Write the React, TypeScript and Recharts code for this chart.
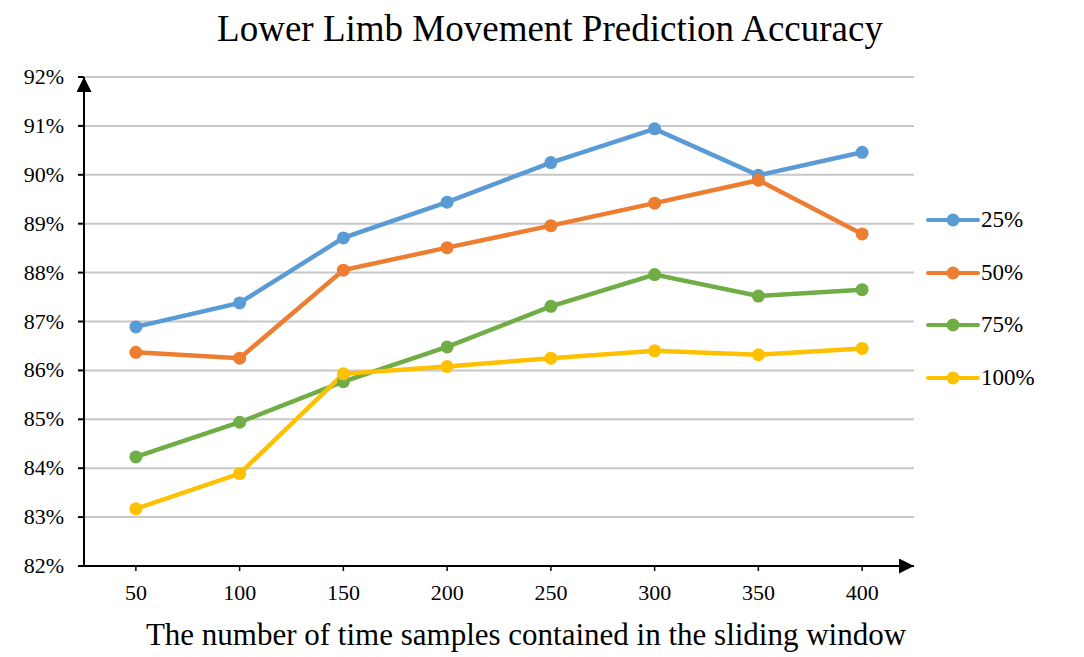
import React from "react";
import { LineChart, Line, XAxis, YAxis, CartesianGrid } from "recharts";

const windowSizes = ["50", "100", "150", "200", "250", "300", "350", "400"];
const acc25 = [86.89, 87.38, 88.71, 89.44, 90.25, 90.94, 89.99, 90.46];
const acc50 = [86.37, 86.25, 88.05, 88.51, 88.96, 89.42, 89.89, 88.79];
const acc75 = [84.23, 84.94, 85.77, 86.48, 87.31, 87.96, 87.52, 87.65];
const acc100 = [83.17, 83.89, 85.93, 86.08, 86.25, 86.4, 86.32, 86.45];
const yTicks = [82, 83, 84, 85, 86, 87, 88, 89, 90, 91, 92];

const seriesNames = ["25%", "50%", "75%", "100%"];
const seriesColors = ["#5B9BD5", "#ED7D31", "#70AD47", "#FFC000"];
const seriesValues = [acc25, acc50, acc75, acc100];

const data = windowSizes.map((w, i) => {
  const row: Record<string, string | number> = { window: w };
  seriesNames.forEach((name, s) => {
    row[name] = seriesValues[s][i];
  });
  return row;
});

const FONT = '"Liberation Serif", "Times New Roman", serif';

function XTick({ x, y, payload }: any) {
  return (
    <text x={x} y={y + 27} textAnchor="middle" fill="#000" fontSize={22} fontFamily={FONT}>
      {payload.value}
    </text>
  );
}

function YTick({ x, y, payload }: any) {
  return (
    <text x={x - 12} y={y + 7} textAnchor="end" fill="#000" fontSize={22} fontFamily={FONT}>
      {`${payload.value}%`}
    </text>
  );
}

function LegendBox() {
  return (
    <div
      style={{
        position: "absolute",
        left: 926,
        top: 194,
        fontFamily: FONT,
        fontSize: 23,
        color: "#000",
      }}
    >
      {seriesNames.map((name, s) => (
        <div key={name} style={{ display: "flex", alignItems: "center", height: 52.5 }}>
          <svg width={54} height={20} style={{ marginRight: 1 }}>
            <line x1={2} y1={10} x2={52} y2={10} stroke={seriesColors[s]} strokeWidth={4} strokeLinecap="round" />
            <circle cx={27} cy={10} r={6.5} fill={seriesColors[s]} />
          </svg>
          <span>{name}</span>
        </div>
      ))}
    </div>
  );
}

export default function App() {
  return (
    <div
      style={{
        position: "absolute",
        left: 0,
        top: 0,
        width: 1084,
        height: 657,
        background: "#fff",
        fontFamily: FONT,
      }}
    >
      <div
        style={{
          position: "absolute",
          left: 0,
          width: 1100,
          top: 7,
          textAlign: "center",
          fontSize: 37,
          lineHeight: "44px",
          color: "#000",
        }}
      >
        Lower Limb Movement Prediction Accuracy
      </div>
      <div
        style={{
          position: "absolute",
          left: 0,
          width: 1052,
          top: 617,
          textAlign: "center",
          fontSize: 31,
          lineHeight: "36px",
          color: "#000",
        }}
      >
        The number of time samples contained in the sliding window
      </div>
      <LegendBox />
      <LineChart
        width={1084}
        height={657}
        data={data}
        margin={{ top: 77, right: 170, bottom: 0, left: 0 }}
      >
        <defs>
          <marker
            id="axisArrow"
            viewBox="0 0 10 10"
            refX={10}
            refY={5}
            markerWidth={8.5}
            markerHeight={7.5}
            orient="auto-start-reverse"
          >
            <path d="M0,0 L10,5 L0,10 z" fill="#000" />
          </marker>
        </defs>

        {/* horizontal grid */}
        <CartesianGrid vertical={false} stroke="#C8C8C8" strokeWidth={2} />

        <XAxis
          dataKey="window"
          scale="band"
          height={91}
          axisLine={{ stroke: "#000", strokeWidth: 2, markerEnd: "url(#axisArrow)" }}
          tickLine={{ stroke: "#000", strokeWidth: 1.5 }}
          tickSize={5}
          tick={<XTick />}
        />

        <YAxis
          width={84}
          domain={[82, 92]}
          ticks={yTicks}
          interval={0}
          axisLine={{ stroke: "#000", strokeWidth: 2, markerStart: "url(#axisArrow)" }}
          tickLine={{ stroke: "#000", strokeWidth: 2 }}
          tickSize={6}
          tick={<YTick />}
        />

        {seriesNames.map((name, s) => (
          <Line
            key={name}
            type="linear"
            dataKey={name}
            stroke={seriesColors[s]}
            strokeWidth={4.5}
            dot={{ r: 6.5, fill: seriesColors[s], stroke: seriesColors[s], strokeWidth: 0 }}
            activeDot={false}
            isAnimationActive={false}
          />
        ))}
      </LineChart>
    </div>
  );
}
